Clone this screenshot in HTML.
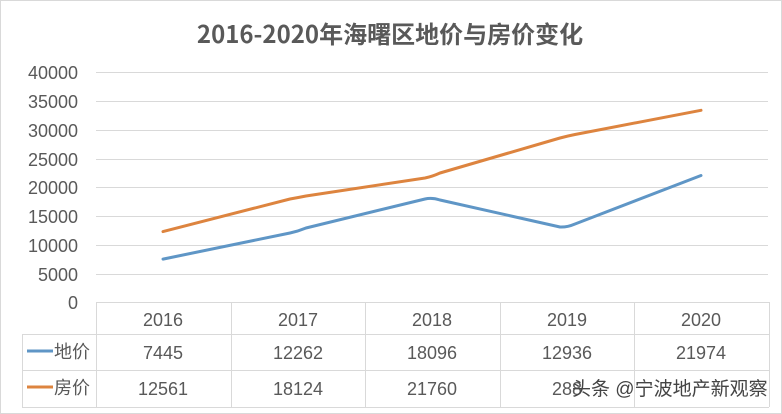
<!DOCTYPE html>
<html><head><meta charset="utf-8"><style>
html,body{margin:0;padding:0;background:#fff}
svg{display:block}
text{font-family:"Liberation Sans","Noto Sans CJK SC",sans-serif;fill:#595959}
</style></head><body>
<svg width="782" height="414" viewBox="0 0 782 414" xmlns="http://www.w3.org/2000/svg">
<rect x="0.5" y="0.5" width="781" height="413" fill="#fff" stroke="#d9d9d9"/>
<text x="390" y="43" text-anchor="middle" font-size="24" font-weight="bold" style="font-family:'Noto Sans CJK SC','Liberation Sans',sans-serif">2016-2020年海曙区地价与房价变化</text>
<g stroke="#d9d9d9" stroke-width="1">
<line x1="96" y1="72.5" x2="768" y2="72.5"/>
<line x1="96" y1="101.5" x2="768" y2="101.5"/>
<line x1="96" y1="130.5" x2="768" y2="130.5"/>
<line x1="96" y1="159.5" x2="768" y2="159.5"/>
<line x1="96" y1="187.5" x2="768" y2="187.5"/>
<line x1="96" y1="216.5" x2="768" y2="216.5"/>
<line x1="96" y1="245.5" x2="768" y2="245.5"/>
<line x1="96" y1="274.5" x2="768" y2="274.5"/>
<line x1="96" y1="302.5" x2="769" y2="302.5"/>
<line x1="22" y1="334.5" x2="769" y2="334.5"/>
<line x1="22" y1="370.5" x2="769" y2="370.5"/>
<line x1="22" y1="407.5" x2="769" y2="407.5"/>
<line x1="22.5" y1="334" x2="22.5" y2="407"/>
<line x1="96.5" y1="302" x2="96.5" y2="407"/>
<line x1="231.5" y1="302" x2="231.5" y2="407"/>
<line x1="365.5" y1="302" x2="365.5" y2="407"/>
<line x1="500.5" y1="302" x2="500.5" y2="407"/>
<line x1="634.5" y1="302" x2="634.5" y2="407"/>
<line x1="769.5" y1="302" x2="769.5" y2="407"/>
</g>
<g font-size="18" text-anchor="end">
<text x="78" y="79">40000</text>
<text x="78" y="108">35000</text>
<text x="78" y="137">30000</text>
<text x="78" y="166">25000</text>
<text x="78" y="194">20000</text>
<text x="78" y="223">15000</text>
<text x="78" y="252">10000</text>
<text x="78" y="281">5000</text>
<text x="78" y="309">0</text>
</g>
<path d="M163,231.6 L290,199 Q298,197.6 306,196 L425,178 Q432,176.6 440,173 L560,138 Q567,136.1 575,134.5 L701,110.3" fill="none" stroke="#dd843f" stroke-width="3" stroke-linecap="round" stroke-linejoin="round"/>
<path d="M163,259.1 L290,233 Q298,231.3 306,228 L425,199 Q432,197.4 440,200 L560,227 Q567,227.4 575,224 L701,175.5" fill="none" stroke="#5f96c6" stroke-width="3" stroke-linecap="round" stroke-linejoin="round"/>
<g font-size="18" text-anchor="middle">
<text x="163" y="326">2016</text>
<text x="298" y="326">2017</text>
<text x="432" y="326">2018</text>
<text x="567" y="326">2019</text>
<text x="701" y="326">2020</text>
<text x="163" y="359">7445</text>
<text x="298" y="359">12262</text>
<text x="432" y="359">18096</text>
<text x="567" y="359">12936</text>
<text x="701" y="359">21974</text>
<text x="163" y="395">12561</text>
<text x="298" y="395">18124</text>
<text x="432" y="395">21760</text>
<text x="567" y="395">288</text>
</g>
<line x1="27" y1="351" x2="53" y2="351" stroke="#5f96c6" stroke-width="3"/>
<line x1="27" y1="387" x2="53" y2="387" stroke="#dd843f" stroke-width="3"/>
<text x="54" y="358" font-size="18">地价</text>
<text x="54" y="394" font-size="18">房价</text>
<text x="572" y="395" font-size="19" style="fill:#444">头条 @宁波地产新观察</text>
</svg>
</body></html>
